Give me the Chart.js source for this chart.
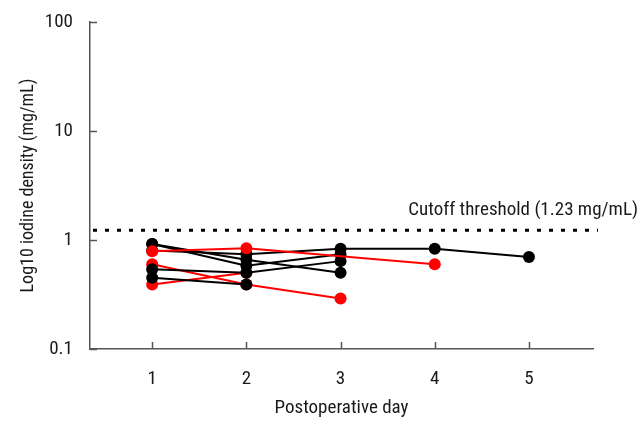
<!DOCTYPE html>
<html>
<head>
<meta charset="utf-8">
<script src="https://cdn.jsdelivr.net/npm/chart.js@4.4.0/dist/chart.umd.min.js"></script>
<style>
  html, body { margin: 0; padding: 0; background: #fff; }
  #wrap { width: 643px; height: 421px; }
</style>
</head>
<body>
<div id="wrap"><canvas id="grafico"></canvas></div>
<script>
// Dias pós-operatórios e ticks do eixo Y (log)
const days = [1, 2, 3, 4, 5];
const yTicks = [0.1, 1, 10, 100];
const cutoff = 1.23;
const cutoffLabel = 'Cutoff threshold (1.23 mg/mL)';

// Um array por paciente, índice = dia (null = sem medida)
const redA   = [0.79, 0.84, null, 0.60];
const black1 = [0.92, 0.66, 0.50];
const black2 = [0.80, 0.74, 0.83, 0.83, 0.70];
const black3 = [0.54, 0.50, 0.64];
const black4 = [0.45, 0.39];
const black5 = [0.92, 0.58, 0.74];
const redB   = [0.60, 0.39, 0.29];
const redC   = [0.39, 0.50];

const RED = '#ff0000';
const BLACK = '#000000';
const AXIS = '#555555';
const TEXT = '#1a1a1a';
const FONT = "'Liberation Sans Narrow', 'Roboto Condensed', 'DejaVu Sans Condensed', sans-serif";

function serie(values, color) {
    return {
        data: values.map((v, i) => ({ x: days[i], y: v })),
        borderColor: color,
        backgroundColor: color,
        pointBackgroundColor: color,
        pointBorderColor: color,
        pointRadius: 6,
        pointBorderWidth: 0,
        borderWidth: 2,
        spanGaps: true,
        tension: 0
    };
}

// linha de corte pontilhada + marcas dos eixos (para dentro)
const extras = {
    id: 'extras',
    beforeDatasetsDraw(chart) {
        const { ctx, chartArea, scales } = chart;
        const y = scales.y.getPixelForValue(cutoff);
        ctx.save();
        ctx.strokeStyle = BLACK;
        ctx.lineWidth = 3;
        ctx.setLineDash([4, 8]);
        ctx.beginPath();
        ctx.moveTo(chartArea.left + 3, y);
        ctx.lineTo(chartArea.right + 5, y);
        ctx.stroke();
        ctx.setLineDash([]);

        ctx.fillStyle = TEXT;
        ctx.font = '19px ' + FONT;
        ctx.textAlign = 'right';
        ctx.textBaseline = 'middle';
        ctx.fillText(cutoffLabel, chart.width - 5, y - 20);

        ctx.strokeStyle = AXIS;
        ctx.lineWidth = 1.5;
        yTicks.forEach(t => {
            const py = Math.round(scales.y.getPixelForValue(t)) + 0.5;
            ctx.beginPath();
            ctx.moveTo(chartArea.left, py);
            ctx.lineTo(chartArea.left + 7, py);
            ctx.stroke();
        });
        days.forEach(d => {
            const px = Math.round(scales.x.getPixelForValue(d)) + 0.5;
            ctx.beginPath();
            ctx.moveTo(px, chartArea.bottom);
            ctx.lineTo(px, chartArea.bottom - 7);
            ctx.stroke();
        });
        ctx.restore();
    }
};

const ctx = document.getElementById('grafico').getContext('2d');

new Chart(ctx, {
    type: 'line',
    data: {
        datasets: [
            serie(redA, RED),
            serie(black1, BLACK),
            serie(black2, BLACK),
            serie(black3, BLACK),
            serie(black4, BLACK),
            serie(black5, BLACK),
            serie(redB, RED),
            serie(redC, RED)
        ]
    },
    plugins: [extras],
    options: {
        responsive: true,
        maintainAspectRatio: false,
        animation: false,
        layout: { padding: { left: 0, right: 50, top: 22, bottom: 0 } },
        plugins: {
            legend: { display: false },
            tooltip: { enabled: false }
        },
        scales: {
            x: {
                type: 'linear',
                min: 0.34,
                max: 5.68,
                afterBuildTicks: s => { s.ticks = days.map(v => ({ value: v })); },
                afterFit: s => { s.height = 72; s.paddingLeft = 0; s.paddingRight = 0; },
                grid: { display: false, drawTicks: false },
                border: { color: AXIS, width: 1.5 },
                ticks: {
                    padding: 19,
                    color: TEXT,
                    font: { family: FONT, size: 19 },
                    callback: v => String(v)
                },
                title: {
                    display: true,
                    text: 'Postoperative day',
                    color: TEXT,
                    font: { family: FONT, size: 19 },
                    padding: { top: 0, bottom: 1 }
                }
            },
            y: {
                type: 'logarithmic',
                min: 0.1,
                max: 100,
                afterBuildTicks: s => { s.ticks = yTicks.map(v => ({ value: v })); },
                afterFit: s => { s.width = 90; s.paddingTop = 0; s.paddingBottom = 0; },
                grid: { display: false, drawTicks: false },
                border: { color: AXIS, width: 1.5 },
                ticks: {
                    padding: 17,
                    color: TEXT,
                    font: { family: FONT, size: 19 },
                    callback: v => String(v)
                },
                title: {
                    display: true,
                    text: 'Log10 iodine density (mg/mL)',
                    color: TEXT,
                    font: { family: FONT, size: 18 },
                    padding: { top: 18, bottom: 0 }
                }
            }
        }
    }
});
</script>
</body>
</html>
